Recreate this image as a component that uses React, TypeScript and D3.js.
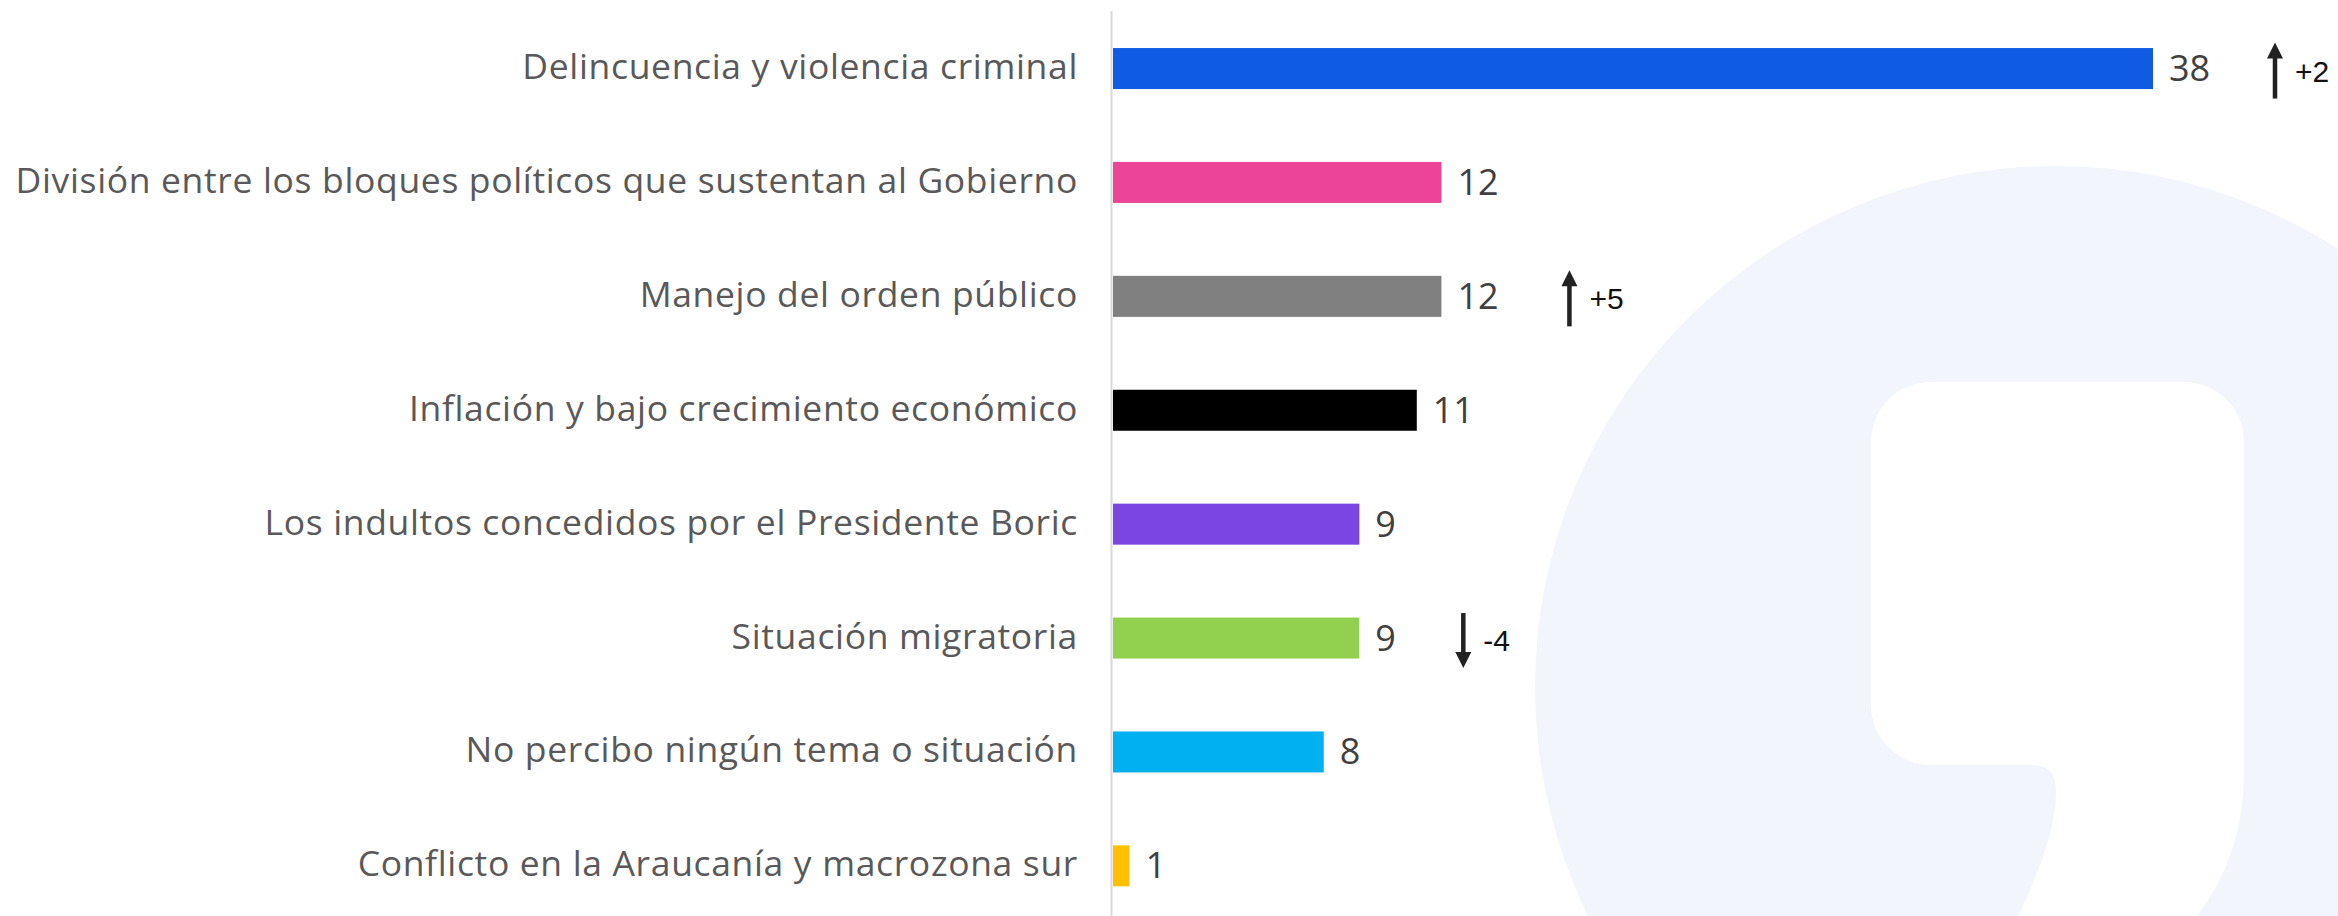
import React from "react";
import * as d3 from "d3";

const categories = [
  "Delincuencia y violencia criminal",
  "División entre los bloques políticos que sustentan al Gobierno",
  "Manejo del orden público",
  "Inflación y bajo crecimiento económico",
  "Los indultos concedidos por el Presidente Boric",
  "Situación migratoria",
  "No percibo ningún tema o situación",
  "Conflicto en la Araucanía y macrozona sur",
];
const values = [38, 12, 12, 11.1, 9, 9, 7.7, 0.6];
const colors = ["#0f5be4", "#ec4496", "#808080", "#000000", "#7b45e3", "#92d050", "#00b0f0", "#ffc000"];
const deltas: (number | null)[] = [2, null, 5, null, null, -4, null, null];

const W = 2338;
const H = 916;
const axisX = 1113;
const arrowOffsets = [122, 0, 128, 0, 0, 104, 0, 0];
const labelFont = "'Open Sans', sans-serif";

export default function App() {
  const x = d3.scaleLinear().domain([0, d3.max(values) as number]).range([axisX, 2153]);
  const y = d3
    .scaleBand<string>()
    .domain(categories)
    .range([11.6, 922.8])
    .paddingInner(0.64)
    .paddingOuter(0.32);
  const fmt = d3.format(".0f");
  const fmtDelta = (v: number) => d3.format("+d")(v).replace("\u2212", "-");
  const bw = y.bandwidth();

  const watermark =
    "M 1931 382 H 2184 A 60 60 0 0 1 2244 442 V 770 C 2244 830 2228 880 2186 930 L 2012 930 C 2040 870 2056 830 2056 790 Q 2056 765 2032 765 H 1931 A 60 60 0 0 1 1871 705 V 442 A 60 60 0 0 1 1931 382 Z";

  return (
    <div style={{ position: "fixed", left: 0, top: 0, width: W, height: H, overflow: "hidden", background: "#fff" }}>
      <svg width={W} height={H} style={{ display: "block" }}>
        <circle cx={2056} cy={687} r={521} fill="#f2f5fc" />
        <path d={watermark} fill="#ffffff" />
        <line x1={1111.5} x2={1111.5} y1={11} y2={H} stroke="#d9d9d9" strokeWidth={2} />
        {categories.map((c, i) => {
          const y0 = y(c) as number;
          const cy = y0 + bw / 2;
          const d = deltas[i];
          const ax = x(values[i]) + arrowOffsets[i];
          return (
            <g key={c}>
              <text
                x={1078}
                y={cy + 10.5}
                textAnchor="end"
                fontFamily={labelFont}
                fontSize={35.5}
                letterSpacing={0.65}
                fill="#595959"
              >
                {c}
              </text>
              <rect x={axisX} y={y0} width={x(values[i]) - axisX} height={bw} fill={colors[i]} />
              <text
                x={x(values[i]) + 16}
                y={cy + 12.5}
                fontFamily={labelFont}
                fontSize={36}
                fill="#404040"
              >
                {fmt(values[i])}
              </text>
              {d !== null && (
                <g>
                  {d > 0 ? (
                    <>
                      <rect x={ax - 2.25} y={cy - 12} width={4.5} height={42} fill="#222" />
                      <path d={`M ${ax} ${cy - 26} L ${ax + 8} ${cy - 10} L ${ax - 8} ${cy - 10} Z`} fill="#222" />
                    </>
                  ) : (
                    <>
                      <rect x={ax - 2.25} y={cy - 25} width={4.5} height={42} fill="#222" />
                      <path d={`M ${ax} ${cy + 30} L ${ax + 8} ${cy + 14} L ${ax - 8} ${cy + 14} Z`} fill="#222" />
                    </>
                  )}
                  <text
                    x={ax + 20}
                    y={cy + 13}
                    fontFamily="'Liberation Sans', Arial, sans-serif"
                    fontSize={30}
                    fill="#111"
                  >
                    {fmtDelta(d)}
                  </text>
                </g>
              )}
            </g>
          );
        })}
      </svg>
    </div>
  );
}
